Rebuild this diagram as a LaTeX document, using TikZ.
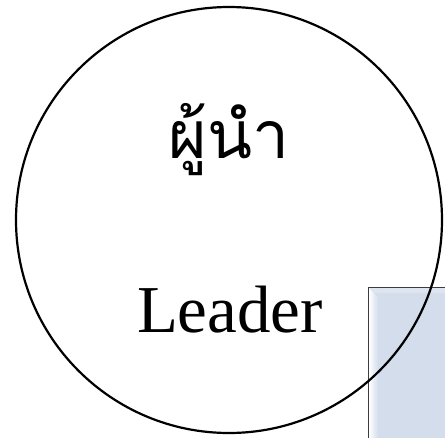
\documentclass[tikz,border=0pt]{standalone}
\usepackage{fontspec}
\setmainfont{Liberation Serif}
\newfontfamily\thaifont[Script=Thai]{Loma}
\usetikzlibrary{calc, positioning}
\definecolor{LeaderBlue}{RGB}{211, 221, 236}
\definecolor{LeaderTop}{RGB}{222, 229, 241}
\definecolor{LeaderEdge}{RGB}{60, 60, 60}

\begin{document}
\begin{tikzpicture}[x=1pt, y=-1pt]

    % --- Frame ---
    \useasboundingbox (0, 0) rectangle (445, 437);
    \clip (0, 0) rectangle (445, 437);

    % --- Box (bottom right) ---
    \draw[fill=LeaderBlue, draw=LeaderEdge, line width=0.8pt] (368, 287) rectangle (460, 450);
    \fill[LeaderTop] (369, 288) -- (460, 288) -- (460, 293) -- (375, 293) -- cycle; % Top bevel
    \shade[left color=white, right color=LeaderBlue] (369, 288) -- (378, 297) -- (378, 450) -- (369, 450) -- cycle; % Left bevel

    % --- Circle ---
    \draw[line width=2.2pt] (229, 220) circle (213pt);

    % --- Labels ---
    \node[anchor=base, inner sep=0pt, font=\thaifont\fontsize{66}{68}\selectfont] (thai) at (229, 158) {ผู้นำ};
    \node[anchor=base, inner sep=0pt, font=\fontsize{67}{70}\selectfont] (leader) at (230, 332) {Leader};

\end{tikzpicture}
\end{document}
